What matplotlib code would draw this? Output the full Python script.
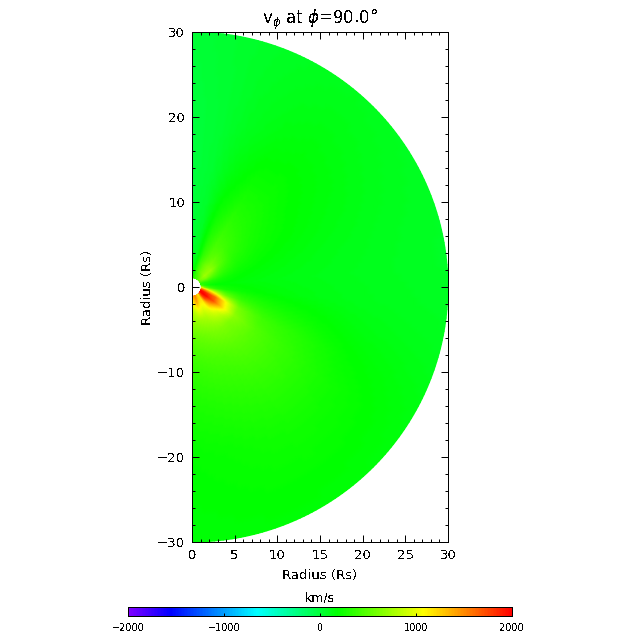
#!/usr/bin/env python3
import numpy as np
import matplotlib
matplotlib.use("Agg")
import matplotlib.pyplot as plt
from matplotlib.colors import LinearSegmentedColormap

plt.rcParams["text.antialiased"] = False
plt.rcParams["lines.antialiased"] = False
plt.rcParams["patch.antialiased"] = False
plt.rcParams["axes.linewidth"] = 0.72
plt.rcParams["mathtext.fontset"] = "dejavusans"
plt.rcParams["xtick.direction"] = "in"
plt.rcParams["ytick.direction"] = "in"

### data ###
radii = [1.1, 1.5, 2, 3, 4, 6, 9, 14, 20, 30]
# latitude of each row of vphi, top to bottom
lats = [90, 80, 70, 60, 50, 40, 30, 15, 5, -5, -15, -25, -35, -45, -55, -65, -75, -90]
vphi = [
    [ 300, 200, 120,  70,  40,  10, -10, -20, -20,   0],
    [ 300, 250, 200, 140,  90,  70,  50,  30,  20,  30],
    [ 350, 380, 400, 400, 350, 300, 230, 140,  90,  60],
    [ 400, 450, 550, 550, 480, 420, 330, 220, 140,  80],
    [ 450, 550, 650, 650, 560, 400, 300, 220, 160,  90],
    [ 550, 650, 750, 700, 520, 340, 260, 190, 150,  80],
    [ 500, 600, 650, 520, 400, 280, 220, 170, 130,  70],
    [ 300, 300, 300, 280, 240, 190, 160, 130, 100,  60],
    [ 500, 300, 220, 180, 170, 150, 130, 110,  90,  60],
    [1000, 650, 450, 320, 260, 210, 170, 130, 100,  70],
    [1600,1450,1250, 900, 600, 370, 280, 210, 140,  90],
    [1950,1900,1800,1600,1200, 600, 400, 300, 190, 120],
    [2000,2000,1950,1700,1300, 680, 470, 340, 230, 140],
    [1650,1750,1700,1350,1000, 620, 480, 350, 240, 150],
    [1100,1200,1150,1050, 880, 620, 470, 340, 240, 160],
    [1250,1250,1150, 950, 780, 600, 440, 320, 230, 165],
    [1500,1450,1350,1000, 750, 560, 420, 300, 210, 165],
    [1400,1200,1050, 800, 700, 520, 380, 270, 190, 160],
]

xticks = [0, 5, 10, 15, 20, 25, 30]
yticks = [-30, -20, -10, 0, 10, 20, 30]
cbar_ticks = [-2000, -1000, 0, 1000, 2000]

### colours ###
cmap = LinearSegmentedColormap.from_list("idl_rainbow", [
    (0.0, "#7f00ff"), (0.11, "#0000ff"), (0.335, "#00ffff"),
    (0.545, "#00ff00"), (0.77, "#ffff00"), (1.0, "#ff0000")])

### plot ###
fig = plt.figure(figsize=(6.4, 6.4), dpi=100)
ax = fig.add_axes([192/640, 1-542/640, 256/640, 510/640])

# refine the table in polar space so the outer edge is round
r_fine = np.geomspace(radii[0], radii[-1], 120)
lat_fine = np.linspace(90, -90, 181)
tab = np.array(vphi, dtype=float)
by_r = np.array([np.interp(np.log(r_fine), np.log(radii), row) for row in tab])
grid = np.array([np.interp(lat_fine, lats[::-1], col[::-1]) for col in by_r.T]).T
rr, ll = np.meshgrid(r_fine, np.radians(lat_fine))
ax.pcolormesh(rr*np.cos(ll), rr*np.sin(ll), grid, cmap=cmap, vmin=-2000, vmax=2000,
              shading="gouraud", rasterized=True)

ax.set_xlim(0, 30)
ax.set_ylim(-30, 30)
ax.set_xticks(xticks)
ax.set_yticks(yticks)
ax.set_xticks(np.arange(0, 31, 1), minor=True)
ax.set_yticks(np.arange(-30, 31, 2), minor=True)
ax.tick_params(which="major", length=5, width=0.72, top=True, right=True, labelsize=9.5, pad=5)
ax.tick_params(which="minor", length=2.5, width=0.72, top=True, right=True)
ax.set_xlabel("Radius (Rs)", fontsize=9.5, labelpad=5)
ax.set_ylabel("Radius (Rs)", fontsize=9.5, labelpad=2)
ax.set_title(r"v$_{\phi}$ at $\phi$=90.0°", fontsize=12, pad=4)

cax = fig.add_axes([128/640, 1-616/640, 384/640, 9/640])
sm = plt.cm.ScalarMappable(cmap=cmap, norm=plt.Normalize(-2000, 2000))
cb = fig.colorbar(sm, cax=cax, orientation="horizontal")
cb.set_ticks(cbar_ticks)
cb.outline.set_linewidth(0.72)
cb.ax.tick_params(direction="in", length=2.5, width=0.72, labelsize=7, pad=5)
cb.ax.set_title("km/s", fontsize=9, pad=4)

fig.savefig("out.png", dpi=100)
